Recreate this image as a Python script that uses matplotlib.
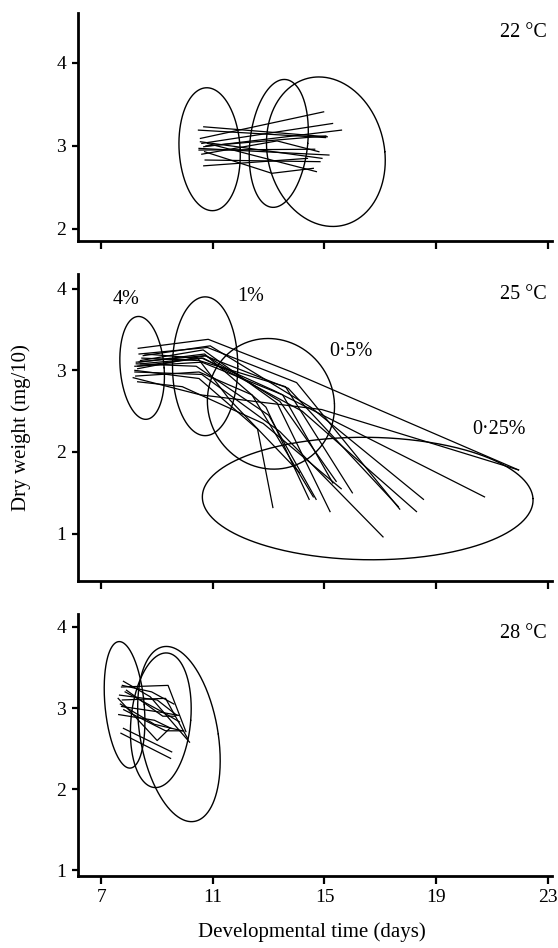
import numpy as np
import matplotlib
matplotlib.use("Agg")
import matplotlib.pyplot as plt

plt.rcParams['font.family'] = ['Liberation Serif', 'DejaVu Serif']

# ---------------- data ----------------
xticks = [7, 11, 15, 19, 23]
panel_titles = ['22 °C', '25 °C', '28 °C']
panel_yticks = [[2, 3, 4], [1, 2, 3, 4], [1, 2, 3, 4]]
panel_ylims = [(1.855, 4.60), (0.42, 4.18), (0.93, 4.16)]
title_y = [4.36, 3.93, 3.92]

# ellipses: centre x, centre y, half-width, half-height, shear (x offset of top point)
ell_22_cx = [10.88, 13.36, 15.05]
ell_22_cy = [2.96, 3.03, 2.93]
ell_22_hw = [1.10, 1.06, 2.13]
ell_22_hh = [0.74, 0.77, 0.90]
ell_22_k = [-0.10, 0.20, -0.25]

ell_25_cx = [8.46, 10.72, 13.08, 16.55]
ell_25_cy = [3.03, 3.05, 2.59, 1.43]
ell_25_hw = [0.80, 1.17, 2.28, 5.93]
ell_25_hh = [0.63, 0.85, 0.80, 0.75]
ell_25_k = [-0.13, 0.0, -0.10, -0.15]

ell_28_cx = [7.83, 9.13, 9.78]
ell_28_cy = [3.04, 2.85, 2.68]
ell_28_hw = [0.73, 1.09, 1.48]
ell_28_hh = [0.78, 0.83, 1.08]
ell_28_k = [-0.19, 0.19, -0.45]

# genotype reaction lines (x = developmental time, y = dry weight)
lines_22_x = [[10.67, 15.10], [10.48, 15.04], [10.55, 14.97], [10.60, 15.29],
              [10.67, 15.61], [10.50, 15.16], [10.72, 14.84], [10.67, 14.39],
              [10.80, 14.71], [10.70, 13.11, 14.60], [10.55, 14.91],
              [10.50, 14.65], [10.75, 15.05], [10.60, 13.30, 14.80]]
lines_22_y = [[3.23, 3.11], [3.19, 3.10], [3.09, 3.41], [3.03, 3.27],
              [2.99, 3.19], [2.97, 2.89], [2.83, 2.81], [2.76, 2.85],
              [3.03, 2.69], [2.93, 2.67, 2.73], [3.05, 2.85],
              [2.95, 2.96], [3.00, 3.12], [2.90, 3.06, 2.93]]

lines_25_x = [[8.32, 10.83, 13.82, 21.96], [8.14, 10.55, 14.90, 21.96],
              [8.30, 10.60, 13.20, 20.74], [8.20, 10.50, 12.60, 13.15],
              [8.35, 10.70, 12.90, 14.45], [8.25, 10.40, 13.00, 14.70],
              [8.40, 10.65, 13.30, 15.20], [8.20, 10.60, 13.50, 15.30],
              [8.30, 10.75, 13.40, 15.42], [8.45, 10.50, 13.60, 16.00],
              [8.20, 10.60, 13.40, 17.10], [8.35, 10.80, 14.00, 17.70],
              [8.25, 10.70, 13.70, 17.65], [8.40, 10.65, 14.20, 18.30],
              [8.50, 10.90, 14.50, 18.55], [8.23, 10.50, 12.40, 14.60],
              [8.56, 10.45, 11.60, 14.10], [8.30, 9.90, 12.80, 15.60]]
lines_25_y = [[3.27, 3.38, 2.98, 1.78], [2.91, 2.70, 2.52, 1.78],
              [3.05, 3.15, 2.75, 1.45], [3.00, 2.90, 2.28, 1.32],
              [3.10, 3.20, 2.55, 1.42], [3.08, 3.05, 2.45, 1.42],
              [3.12, 3.25, 2.60, 1.27], [3.05, 3.10, 2.70, 1.62],
              [3.02, 3.18, 2.62, 1.64], [3.15, 3.12, 2.80, 1.50],
              [2.98, 2.95, 2.25, 0.96], [3.20, 3.28, 2.85, 1.30],
              [3.10, 3.18, 2.78, 1.33], [3.08, 3.15, 2.50, 1.27],
              [3.18, 3.30, 2.55, 1.42], [2.93, 2.98, 2.70, 1.45],
              [3.20, 3.15, 2.64, 1.75], [2.86, 2.80, 2.35, 1.55]]

lines_28_x = [[7.72, 9.39, 10.03], [7.79, 8.75, 10.16], [7.65, 9.00, 9.71],
              [7.72, 9.11, 9.78], [7.60, 9.00, 9.45], [7.79, 9.52],
              [7.70, 9.48], [7.85, 9.20, 9.80], [7.75, 8.80, 9.60],
              [7.68, 8.90, 9.90], [7.80, 9.30, 9.95], [7.90, 9.20, 9.65],
              [7.62, 8.90, 9.50], [7.75, 9.30, 10.10]]
lines_28_y = [[3.26, 3.28, 2.71], [3.33, 3.14, 2.58], [3.16, 3.10, 2.91],
              [3.02, 2.95, 2.91], [3.12, 2.60, 2.75], [2.75, 2.46],
              [2.69, 2.38], [3.20, 2.95, 2.83], [3.28, 3.20, 3.05],
              [3.05, 2.80, 2.72], [2.98, 2.72, 2.72], [3.22, 2.90, 2.90],
              [2.92, 2.85, 2.75], [3.10, 3.12, 2.62]]

food_labels = ['4%', '1%', '0·5%', '0·25%']
food_label_x = [7.88, 12.34, 15.96, 21.26]
food_label_y = [3.87, 3.90, 3.23, 2.27]

# ---------------- figure ----------------
fig = plt.figure(figsize=(5.58, 9.48), dpi=100)
left, width = 78 / 558, (552 - 78) / 558
boxes = [(13, 241), (274, 581), (614, 876)]
axes = []
for top, bot in boxes:
    ax = fig.add_axes([left, 1 - bot / 948, width, (bot - top) / 948])
    axes.append(ax)

ells = [(ell_22_cx, ell_22_cy, ell_22_hw, ell_22_hh, ell_22_k),
        (ell_25_cx, ell_25_cy, ell_25_hw, ell_25_hh, ell_25_k),
        (ell_28_cx, ell_28_cy, ell_28_hw, ell_28_hh, ell_28_k)]
lines = [(lines_22_x, lines_22_y), (lines_25_x, lines_25_y), (lines_28_x, lines_28_y)]

t = np.linspace(0, 2 * np.pi, 400)
for i, ax in enumerate(axes):
    cxs, cys, hws, hhs, ks = ells[i]
    for cx, cy, hw, hh, k in zip(cxs, cys, hws, hhs, ks):
        a = np.sqrt(max(hw ** 2 - k ** 2, 1e-6))
        ex = cx + a * np.cos(t) + k * np.sin(t)
        ey = cy + hh * np.sin(t)
        ax.plot(ex, ey, color='black', lw=1.0, solid_capstyle='round',
                solid_joinstyle='round')
    lx, ly = lines[i]
    for xs, ys in zip(lx, ly):
        ax.plot(xs, ys, color='black', lw=0.9)

    ax.set_xlim(6.16, 23.16)
    ax.set_ylim(*panel_ylims[i])
    ax.set_xticks(xticks)
    ax.set_yticks(panel_yticks[i])
    for s in ['top', 'right']:
        ax.spines[s].set_visible(False)
    for s in ['left', 'bottom']:
        ax.spines[s].set_linewidth(2.0)
    ax.tick_params(axis='x', direction='out', length=5.5, width=1.6, pad=3.5, labelsize=14)
    ax.tick_params(axis='y', direction='out', length=4.5, width=1.6, pad=4, labelsize=14)
    if i < 2:
        ax.set_xticklabels([])
    ax.text(22.98, title_y[i], panel_titles[i], ha='right', va='center', fontsize=14.5)

for lab, x, y in zip(food_labels, food_label_x, food_label_y):
    axes[1].text(x, y, lab, ha='center', va='center', fontsize=14.5)

axes[2].set_xlabel('Developmental time (days)', fontsize=15)
axes[2].xaxis.set_label_coords(0.494, -0.175)
axes[1].set_ylabel('Dry weight (mg/10)', fontsize=15)
axes[1].yaxis.set_label_coords(-0.10, 0.50)

fig.savefig('out.png', dpi=100)
